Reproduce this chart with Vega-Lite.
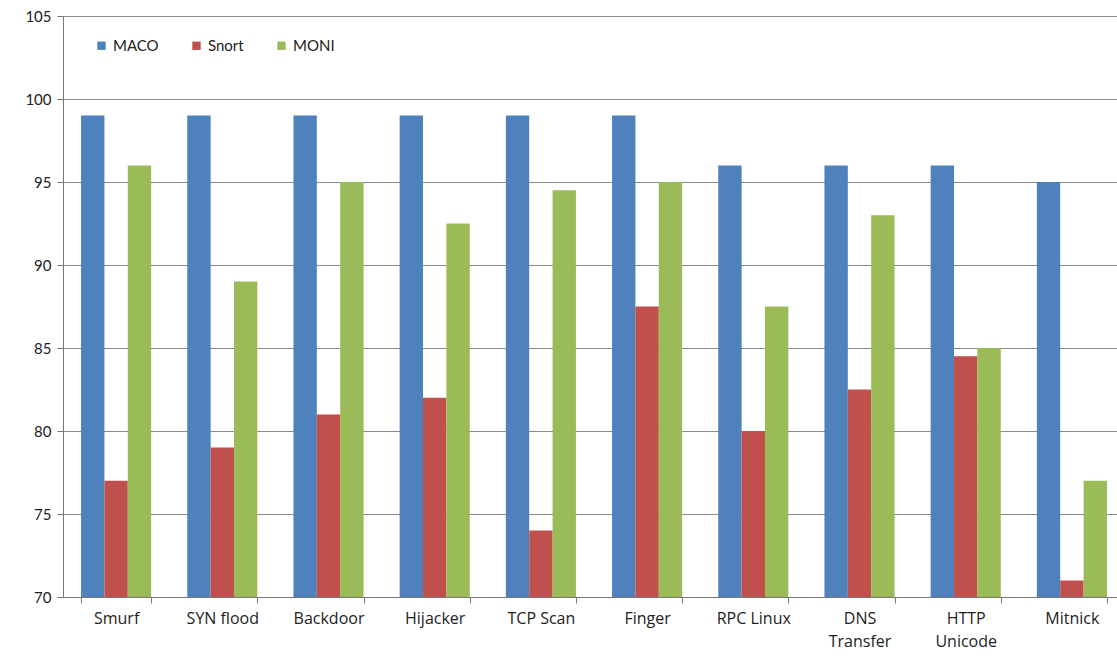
{
  "$schema": "https://vega.github.io/schema/vega-lite/v6.json",
  "autosize": {"type": "none"},
  "width": 1054,
  "height": 581,
  "padding": {"left": 63, "top": 16, "right": 0, "bottom": 63},
  "background": "white",
  "config": {
    "font": "Lato",
    "view": {"stroke": null}
  },
  "data": {
    "values": [
      {"attack": "Smurf", "system": "MACO", "rate": 99},
      {"attack": "Smurf", "system": "Snort", "rate": 77},
      {"attack": "Smurf", "system": "MONI", "rate": 96},
      {"attack": "SYN flood", "system": "MACO", "rate": 99},
      {"attack": "SYN flood", "system": "Snort", "rate": 79},
      {"attack": "SYN flood", "system": "MONI", "rate": 89},
      {"attack": "Backdoor", "system": "MACO", "rate": 99},
      {"attack": "Backdoor", "system": "Snort", "rate": 81},
      {"attack": "Backdoor", "system": "MONI", "rate": 95},
      {"attack": "Hijacker", "system": "MACO", "rate": 99},
      {"attack": "Hijacker", "system": "Snort", "rate": 82},
      {"attack": "Hijacker", "system": "MONI", "rate": 92.5},
      {"attack": "TCP Scan", "system": "MACO", "rate": 99},
      {"attack": "TCP Scan", "system": "Snort", "rate": 74},
      {"attack": "TCP Scan", "system": "MONI", "rate": 94.5},
      {"attack": "Finger", "system": "MACO", "rate": 99},
      {"attack": "Finger", "system": "Snort", "rate": 87.5},
      {"attack": "Finger", "system": "MONI", "rate": 95},
      {"attack": "RPC Linux", "system": "MACO", "rate": 96},
      {"attack": "RPC Linux", "system": "Snort", "rate": 80},
      {"attack": "RPC Linux", "system": "MONI", "rate": 87.5},
      {"attack": "DNS Transfer", "system": "MACO", "rate": 96},
      {"attack": "DNS Transfer", "system": "Snort", "rate": 82.5},
      {"attack": "DNS Transfer", "system": "MONI", "rate": 93},
      {"attack": "HTTP Unicode", "system": "MACO", "rate": 96},
      {"attack": "HTTP Unicode", "system": "Snort", "rate": 84.5},
      {"attack": "HTTP Unicode", "system": "MONI", "rate": 85},
      {"attack": "Mitnick", "system": "MACO", "rate": 95},
      {"attack": "Mitnick", "system": "Snort", "rate": 71},
      {"attack": "Mitnick", "system": "MONI", "rate": 77}
    ]
  },
  "mark": {"type": "bar", "clip": true},
  "encoding": {
    "x": {
      "field": "attack",
      "type": "nominal",
      "sort": null,
      "title": null,
      "scale": {"paddingInner": 0.34, "paddingOuter": 0.17, "rangeMax": 1062},
      "axis": {
        "labelAngle": 0,
        "labelFont": "Open Sans",
        "labelFontSize": 16,
        "labelColor": "#222222",
        "labelPadding": 7,
        "labelLineHeight": 23,
        "labelExpr": "datum.value == 'DNS Transfer' ? ['DNS', 'Transfer'] : datum.value == 'HTTP Unicode' ? ['HTTP', 'Unicode'] : datum.value",
        "tickBand": "extent",
        "tickSize": 6,
        "tickColor": "#777777",
        "domainColor": "#777777",
        "grid": false
      }
    },
    "xOffset": {
      "field": "system",
      "type": "nominal",
      "sort": ["MACO", "Snort", "MONI"],
      "scale": {"paddingInner": 0, "paddingOuter": 0}
    },
    "y": {
      "field": "rate",
      "type": "quantitative",
      "title": null,
      "scale": {"domain": [70, 105], "nice": false, "zero": false},
      "axis": {
        "values": [70, 75, 80, 85, 90, 95, 100, 105],
        "labelFontSize": 15,
        "labelColor": "#222222",
        "labelPadding": 6,
        "tickSize": 6,
        "tickColor": "#777777",
        "domainColor": "#777777",
        "gridColor": "#8a8a8a",
        "gridWidth": 1
      }
    },
    "color": {
      "field": "system",
      "type": "nominal",
      "sort": ["MACO", "Snort", "MONI"],
      "scale": {"domain": ["MACO", "Snort", "MONI"], "range": ["#4F81BD", "#C0504D", "#9BBB59"]},
      "legend": {
        "title": null,
        "orient": "none",
        "direction": "horizontal",
        "legendX": 31,
        "legendY": 22,
        "symbolType": "square",
        "symbolSize": 70,
        "symbolStrokeWidth": 0,
        "labelFontSize": 15,
        "labelColor": "#222222",
        "labelOffset": 4,
        "columnPadding": 30
      }
    }
  }
}
